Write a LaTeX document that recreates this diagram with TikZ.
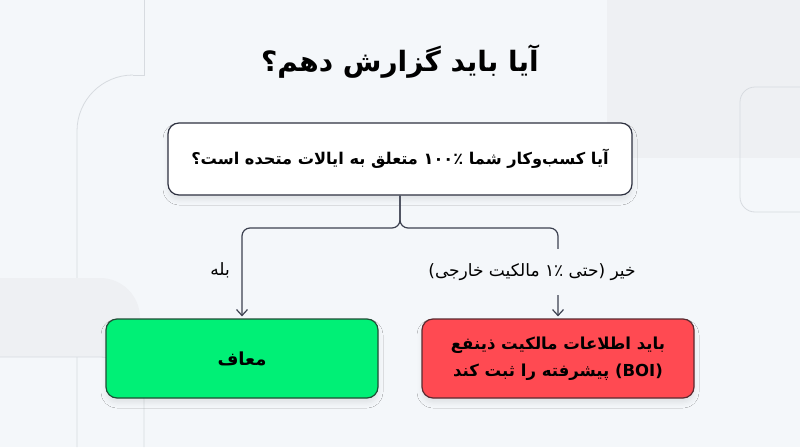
\documentclass[tikz,border=0pt]{standalone}
\usepackage{fontspec}
\newfontfamily\farsi[Script=Arabic]{DejaVu Sans}
\TeXXeTstate=1
\usetikzlibrary{positioning,arrows.meta,shadows.blur}

\definecolor{bgcol}{HTML}{F4F7FA}
\definecolor{greyblk}{HTML}{EEF0F3}
\definecolor{decoline}{HTML}{D7DBE0}
\definecolor{edgecol}{HTML}{2E3140}
\definecolor{conncol}{HTML}{3C4150}
\definecolor{yesfill}{HTML}{00F076}
\definecolor{yesedge}{HTML}{1F4D35}
\definecolor{nofill}{HTML}{FF4A52}
\definecolor{noedge}{HTML}{5A2A30}

\tikzset{
  deco/.style={draw=decoline, line width=0.8pt},
  card/.style={rounded corners=11pt, line width=1.2pt, align=center,
    blur shadow={shadow xshift=0pt, shadow yshift=-5pt, shadow blur radius=5pt, shadow opacity=8}},
  qbox/.style={card, draw=edgecol, fill=white, minimum width=464pt, minimum height=72pt,
    font=\farsi\bfseries\fontsize{16.2}{24}\selectfont},
  yesbox/.style={card, draw=yesedge, fill=yesfill, minimum width=272pt, minimum height=79pt,
    font=\farsi\bfseries\fontsize{18}{27}\selectfont},
  nobox/.style={card, draw=noedge, fill=nofill, minimum width=272pt, minimum height=79pt,
    font=\farsi\bfseries\fontsize{16.5}{27}\selectfont},
  lbl/.style={font=\farsi\fontsize{17}{20}\selectfont, text=black},
  conn/.style={draw=conncol, line width=1.2pt, rounded corners=8pt,
    -{Straight Barb[length=6pt, width=11pt, line width=1.2pt]}, shorten >=2pt},
}

\begin{document}
\begin{tikzpicture}[x=1pt, y=-1pt]
\useasboundingbox (0,0) rectangle (800,447);
\fill[bgcol] (0,0) rectangle (800,447);

% background decoration
\fill[greyblk] (607,0) rectangle (800,158);
\draw[deco, rounded corners=15pt] (800,87) -- (740,87) -- (740,212) -- (800,212);
\draw[deco] (144,0) -- (144,75) -- (133,75);
\draw[deco, rounded corners=56pt] (133,75) -- (77,75) -- (77,447);
\fill[greyblk, rounded corners=40pt] (0,278) -- (140,278) -- (140,357) [sharp corners] -- (0,357) -- cycle;
\draw[deco, rounded corners=44pt] (0,357) -- (144,357) -- (144,447);

% title
\node[font=\farsi\bfseries\fontsize{28}{32}\selectfont] (title) at (400,62)
  {\beginR آیا باید گزارش دهم؟\endR};

% question and answers
\node[qbox] (q) at (400,159)
  {\beginR آیا کسب‌وکار شما \beginL ۱۰۰٪\endL{} متعلق به ایالات متحده است؟\endR};
\node[yesbox] (g) at (242,358.5) {\beginR معاف\endR};
\node[nobox] (r) at (558,358.5)
  {\beginR باید اطلاعات مالکیت ذینفع\endR\\
   \beginR\beginL(BOI)\endL{} پیشرفته را ثبت کند\endR};

% connectors
\coordinate (fork) at (400,228);
\draw[conn] (q.south) |- (g.north |- fork) -- (g.north);
\draw[conn] (q.south) |- (r.north |- fork) -- (r.north);

% labels
\node[lbl] (yes) at (220,270) {\beginR بله\endR};
\node[lbl, fill=bgcol, inner xsep=2pt, inner ysep=14pt] (no) at (532,272)
  {\beginR خیر (حتی \beginL ۱٪\endL{} مالکیت خارجی)\endR};
\end{tikzpicture}
\end{document}
